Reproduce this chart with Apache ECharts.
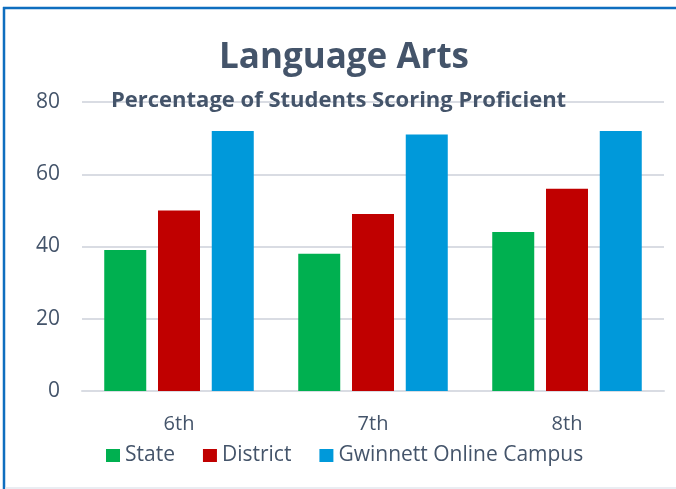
<!DOCTYPE html>
<html>
<head>
<meta charset="utf-8">
<script src="https://cdn.jsdelivr.net/npm/echarts@6/dist/echarts.min.js"></script>
<style>
  html, body { margin: 0; padding: 0; background: #fff; }
  #main { width: 676px; height: 489px; }
</style>
</head>
<body>
<div id="main"></div>
<script>
// data
var grades = ['6th', '7th', '8th'];
var stateVals = [39, 38, 44];
var districtVals = [50, 49, 56];
var onlineVals = [72, 71, 72];
var yTicks = [0, 20, 40, 60, 80];

var TXT = '#44546A';
var FONT = 'Open Sans';

var chart = echarts.init(document.getElementById('main'));

var option = {
  backgroundColor: '#fff',
  animation: false,
  color: ['#00B050', '#C00000', '#0099DA'],
  title: [{
    text: 'Language Arts',
    left: 214,
    top: 36,
    textStyle: { fontFamily: FONT, fontSize: 35, fontWeight: 'bold', color: TXT }
  }, {
    text: 'Percentage of Students Scoring Proficient',
    left: 106,
    top: 85,
    textStyle: { fontFamily: FONT, fontSize: 22, fontWeight: 'bold', color: TXT }
  }],
  legend: {
    left: 101,
    top: 440,
    itemWidth: 14,
    itemHeight: 13,
    itemGap: 28,
    icon: 'rect',
    textStyle: { fontFamily: FONT, fontSize: 21, color: TXT }
  },
  grid: { left: 82, right: 12, top: 102, bottom: 98 },
  xAxis: {
    type: 'category',
    data: grades,
    axisLine: { show: true, lineStyle: { color: '#D9DCE3', width: 2 } },
    axisTick: { show: false },
    axisLabel: { margin: 23, fontFamily: FONT, fontSize: 20, color: TXT }
  },
  yAxis: {
    type: 'value',
    min: yTicks[0],
    max: yTicks[yTicks.length - 1],
    interval: yTicks[1] - yTicks[0],
    axisLine: { show: false },
    axisTick: { show: false },
    axisLabel: { margin: 22, fontFamily: FONT, fontSize: 21, color: TXT },
    splitLine: { lineStyle: { color: '#D9DCE3', width: 2 } }
  },
  series: [{
    name: 'State',
    type: 'bar',
    data: stateVals,
    barWidth: 42,
    barGap: '28%'
  }, {
    name: 'District',
    type: 'bar',
    data: districtVals,
    barWidth: 42,
    barGap: '28%'
  }, {
    name: 'Gwinnett Online Campus',
    type: 'bar',
    data: onlineVals,
    barWidth: 42,
    barGap: '28%'
  }],
  graphic: [{
    type: 'line',
    shape: { x1: 3, y1: 8, x2: 676, y2: 8 },
    style: { stroke: '#0E6EBF', lineWidth: 2.5 }
  }, {
    type: 'line',
    shape: { x1: 4, y1: 7, x2: 4, y2: 489 },
    style: { stroke: '#0E6EBF', lineWidth: 2.5 }
  }, {
    type: 'line',
    shape: { x1: 5, y1: 488, x2: 676, y2: 488 },
    style: { stroke: '#E3E7EE', lineWidth: 1.5 }
  }]
};

chart.setOption(option);
</script>
</body>
</html>
